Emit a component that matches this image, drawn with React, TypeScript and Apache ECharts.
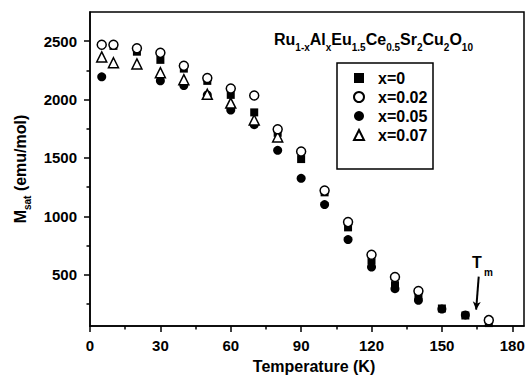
import React, { useEffect, useRef } from "react";
import * as echarts from "echarts";

const temperatures = [5, 10, 20, 30, 40, 50, 60, 70, 80, 90, 100, 110, 120, 130, 140, 150, 160, 170];
const mX0 = [null, 2460, 2410, 2340, 2265, 2160, 2040, 1890, 1715, 1490, 1205, 905, 620, 410, 325, 210, 150, 85];
const mX002 = [2470, 2470, 2440, 2400, 2290, 2185, 2095, 2035, 1745, 1555, 1220, 950, 670, 480, 360, null, null, 110];
const mX005 = [2195, null, null, 2160, 2120, 2040, 1910, 1785, 1565, 1325, 1100, 800, 565, 380, 280, 205, 155, null];
const mX007 = [2365, 2315, 2305, 2230, 2170, 2045, 1970, 1825, 1680, null, null, null, null, null, null, null, null, null];

const xTicks = [0, 30, 60, 90, 120, 150, 180];
const xMinorTicks = [15, 45, 75, 105, 135, 165];
const yTicks = [500, 1000, 1500, 2000, 2500];
const yMinorTicks = [250, 750, 1250, 1750, 2250];

const seriesNames = ["x=0", "x=0.02", "x=0.05", "x=0.07"];
const tmArrow = [[165.7, 483], [164.6, 200]];

const FONT = "'Liberation Sans', Arial, sans-serif";

function pairs(vals: (number | null)[]) {
  const out: number[][] = [];
  vals.forEach((v, i) => {
    if (v !== null) out.push([temperatures[i], v]);
  });
  return out;
}

export default function App() {
  const ref = useRef<HTMLDivElement>(null);
  useEffect(() => {
    if (!ref.current) return;
    const chart = echarts.init(ref.current, null, { renderer: "svg" });
    const axisLabelStyle = { color: "#000", fontFamily: FONT, fontSize: 15, fontWeight: "bold" as const };
    chart.setOption({
      animation: false,
      backgroundColor: "#fff",
      grid: { left: 90, right: 4, top: 12, bottom: 51, show: true, borderColor: "#000", borderWidth: 1.5 },
      xAxis: [
        {
          type: "value",
          min: 0,
          max: 185,
          name: "Temperature (K)",
          nameLocation: "middle",
          nameGap: 32,
          nameTextStyle: { ...axisLabelStyle, fontSize: 16, padding: [0, 0, 0, 14] },
          axisLine: { show: true, lineStyle: { color: "#000", width: 1.5 } },
          axisTick: { show: true, inside: false, length: 6, lineStyle: { color: "#000", width: 1.5 }, customValues: xTicks },
          axisLabel: { ...axisLabelStyle, margin: 12, customValues: xTicks, formatter: (v: number) => String(v) },
          splitLine: { show: false },
        },
        {
          type: "value",
          min: 0,
          max: 185,
          position: "bottom",
          axisLine: { show: false },
          axisTick: { show: true, inside: false, length: 3.5, lineStyle: { color: "#000", width: 1.5 }, customValues: xMinorTicks },
          axisLabel: { show: false },
          splitLine: { show: false },
        },
      ],
      yAxis: [
        {
          type: "value",
          min: 60,
          max: 2750,
          name: "M{sub|sat} (emu/mol)",
          nameLocation: "middle",
          nameGap: 58,
          nameRotate: 90,
          nameTextStyle: {
            ...axisLabelStyle,
            fontSize: 16,
            rich: {
              sub: { fontFamily: FONT, fontSize: 10, fontWeight: "bold", color: "#000", verticalAlign: "bottom", lineHeight: 10 },
            },
            lineHeight: 24,
          },
          axisLine: { show: true, lineStyle: { color: "#000", width: 1.5 } },
          axisTick: { show: true, inside: false, length: 6, lineStyle: { color: "#000", width: 1.5 }, customValues: yTicks },
          axisLabel: { ...axisLabelStyle, margin: 13, customValues: yTicks, formatter: (v: number) => String(v) },
          splitLine: { show: false },
        },
        {
          type: "value",
          min: 60,
          max: 2750,
          position: "left",
          axisLine: { show: false },
          axisTick: { show: true, inside: false, length: 3.5, lineStyle: { color: "#000", width: 1.5 }, customValues: yMinorTicks },
          axisLabel: { show: false },
          splitLine: { show: false },
        },
      ],
      legend: {
        data: seriesNames,
        orient: "vertical",
        left: 337,
        top: 63,
        padding: [6, 7, 6, 16],
        itemWidth: 10,
        itemHeight: 10,
        itemGap: 1,
        textStyle: { color: "#000", fontFamily: FONT, fontSize: 16, fontWeight: "bold", lineHeight: 18, padding: [0, 0, 0, 9] },
      },
      graphic: [
        {
          type: "rect",
          z: 1,
          shape: { x: 337, y: 63, width: 96, height: 106 },
          style: { fill: "#fff", stroke: "#000", lineWidth: 1.5 },
        },
        {
          type: "text",
          x: 274,
          y: 39,
          style: {
            text: "Ru{sub|1-x}Al{sub|x}Eu{sub|1.5}Ce{sub|0.5}Sr{sub|2}Cu{sub|2}O{sub|10}",
            fontFamily: FONT,
            fontSize: 16,
            fontWeight: "bold",
            fill: "#000",
            lineHeight: 26,
            verticalAlign: "middle",
            rich: {
              sub: { fontFamily: FONT, fontSize: 10, fontWeight: "bold", fill: "#000", verticalAlign: "bottom", lineHeight: 10 },
            },
          },
        },
        {
          type: "text",
          x: 472,
          y: 262,
          style: { text: "T", fontFamily: FONT, fontSize: 16, fontWeight: "bold", fill: "#000", verticalAlign: "middle" },
        },
        {
          type: "text",
          x: 484,
          y: 272,
          style: { text: "m", fontFamily: FONT, fontSize: 10, fontWeight: "bold", fill: "#000", verticalAlign: "middle" },
        },
      ],
      series: [
        {
          name: "x=0.05",
          type: "scatter",
          symbol: "circle",
          symbolSize: 9,
          itemStyle: { color: "#000", borderColor: "#000", borderWidth: 0, opacity: 1 },
          data: pairs(mX005),
        },
        {
          name: "x=0",
          type: "scatter",
          symbol: "rect",
          symbolSize: 8,
          itemStyle: { color: "#000", borderColor: "#000", borderWidth: 0, opacity: 1 },
          data: pairs(mX0),
          markLine: {
            silent: true,
            symbol: ["none", "arrow"],
            symbolSize: [6, 8],
            label: { show: false },
            lineStyle: { color: "#000", width: 2, type: "solid" },
            data: [[{ coord: tmArrow[0] }, { coord: tmArrow[1] }]],
          },
        },
        {
          name: "x=0.07",
          type: "scatter",
          symbol: "triangle",
          symbolSize: 10,
          itemStyle: { color: "#fff", borderColor: "#000", borderWidth: 1.5, opacity: 1 },
          data: pairs(mX007),
        },
        {
          name: "x=0.02",
          type: "scatter",
          symbol: "circle",
          symbolSize: 9,
          itemStyle: { color: "#fff", borderColor: "#000", borderWidth: 1.5, opacity: 1 },
          data: pairs(mX002),
        },
      ],
    });
    return () => chart.dispose();
  }, []);
  return <div ref={ref} style={{ width: 528, height: 379, position: "absolute", left: 0, top: 0 }} />;
}
